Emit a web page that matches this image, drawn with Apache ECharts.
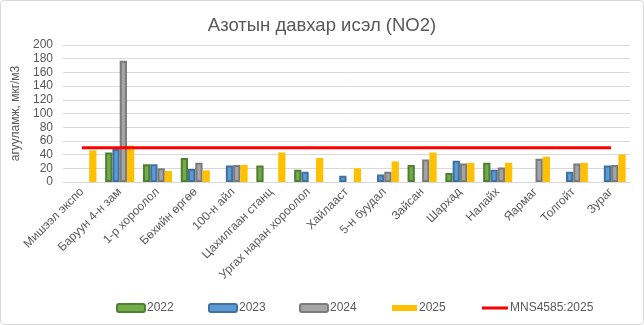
<!DOCTYPE html>
<html><head><meta charset="utf-8">
<script src="https://cdn.jsdelivr.net/npm/echarts@6/dist/echarts.min.js"></script>
<style>
html,body{margin:0;padding:0;background:#fff;}
#wrap{position:absolute;left:0;top:0;width:642px;height:323px;border:1px solid #D9D9D9;border-radius:4px;}
#c{position:absolute;left:0;top:0;width:644px;height:325px;}
</style></head>
<body><div id="wrap"></div><div id="c"></div>
<script>
const categories = ["Мишээл экспо","Баруун 4-н зам","1-р хороолол","Бөхийн өргөө","100-н айл","Цахилгаан станц","Ургах наран хороолол","Хайлааст","5-н буудал","Зайсан","Шархад","Налайх","Яармаг","Толгойт","Зураг"];
const v2022 = [null,43,26,35,null,24,18,null,null,25,13,28,null,null,null];
const v2023 = [null,48,26,19,24,null,15,9,11,null,31,18,null,15,24];
const v2024 = [null,177,20,28,25,null,null,null,15,33,27,21,34,27,25];
const v2025 = [46,53,16,17,25,43,35,20,30,43,28,28,37,28,40];
const standard = [50,50,50,50,50,50,50,50,50,50,50,50,50,50,50];
const yTicks = {min:0,max:200,interval:20};

const txt = '#595959';
const font = 'Liberation Sans, Arial, sans-serif';
const chart = echarts.init(document.getElementById('c'));
function bar(name, data, fill, border){
  return {name, type:'bar', data, barGap:'0%', barCategoryGap:'23%',
    itemStyle:{color:fill, borderColor:border, borderWidth:border?2:0}};
}
function lg(name, left, icon, w, h){
  return {data:[{name, icon}], left, top:297, itemWidth:w, itemHeight:h, itemGap:0,
    textStyle:{color:txt, fontSize:12, fontFamily:font, padding:[0,0,0,-3]}};
}
chart.setOption({
  animation:false,
  title:{text:'Азотын давхар исэл (NO2)', left:'center', top:11,
    textStyle:{color:txt, fontSize:18.5, fontWeight:'normal', fontFamily:font}},
  grid:{left:63, right:14, top:45, bottom:143},
  legend:[lg('2022',111,'roundRect',28,8), lg('2023',203,'roundRect',28,8), lg('2024',294,'roundRect',28,8),
          lg('2025',387,'rect',25,6), lg('MNS4585:2025',477,'rect',26,3)],
  xAxis:{type:'category', data:categories, boundaryGap:true,
    axisLine:{lineStyle:{color:'#D9D9D9', width:1}}, axisTick:{show:false},
    axisLabel:{rotate:45, interval:0, color:txt, fontSize:12, fontFamily:font, margin:8}},
  yAxis:{type:'value', min:yTicks.min, max:yTicks.max, interval:yTicks.interval,
    name:'агууламж, мкг/м3', nameLocation:'middle', nameGap:32, nameRotate:90,
    nameTextStyle:{color:txt, fontSize:12, fontFamily:font},
    axisLine:{show:false}, axisTick:{show:false},
    axisLabel:{color:txt, fontSize:12, fontFamily:font, margin:10},
    splitLine:{lineStyle:{color:'#D9D9D9', width:1}}},
  series:[
    bar('2022', v2022, '#70AD47', '#507E32'),
    bar('2023', v2023, '#5B9BD5', '#41719C'),
    bar('2024', v2024, '#A5A5A5', '#7B7B7B'),
    bar('2025', v2025, '#FFC000', null),
    {name:'MNS4585:2025', type:'line', data:standard, symbol:'none', z:5,
      lineStyle:{color:'#FF0000', width:3}, itemStyle:{color:'#FF0000'}}
  ]
});
</script></body></html>
